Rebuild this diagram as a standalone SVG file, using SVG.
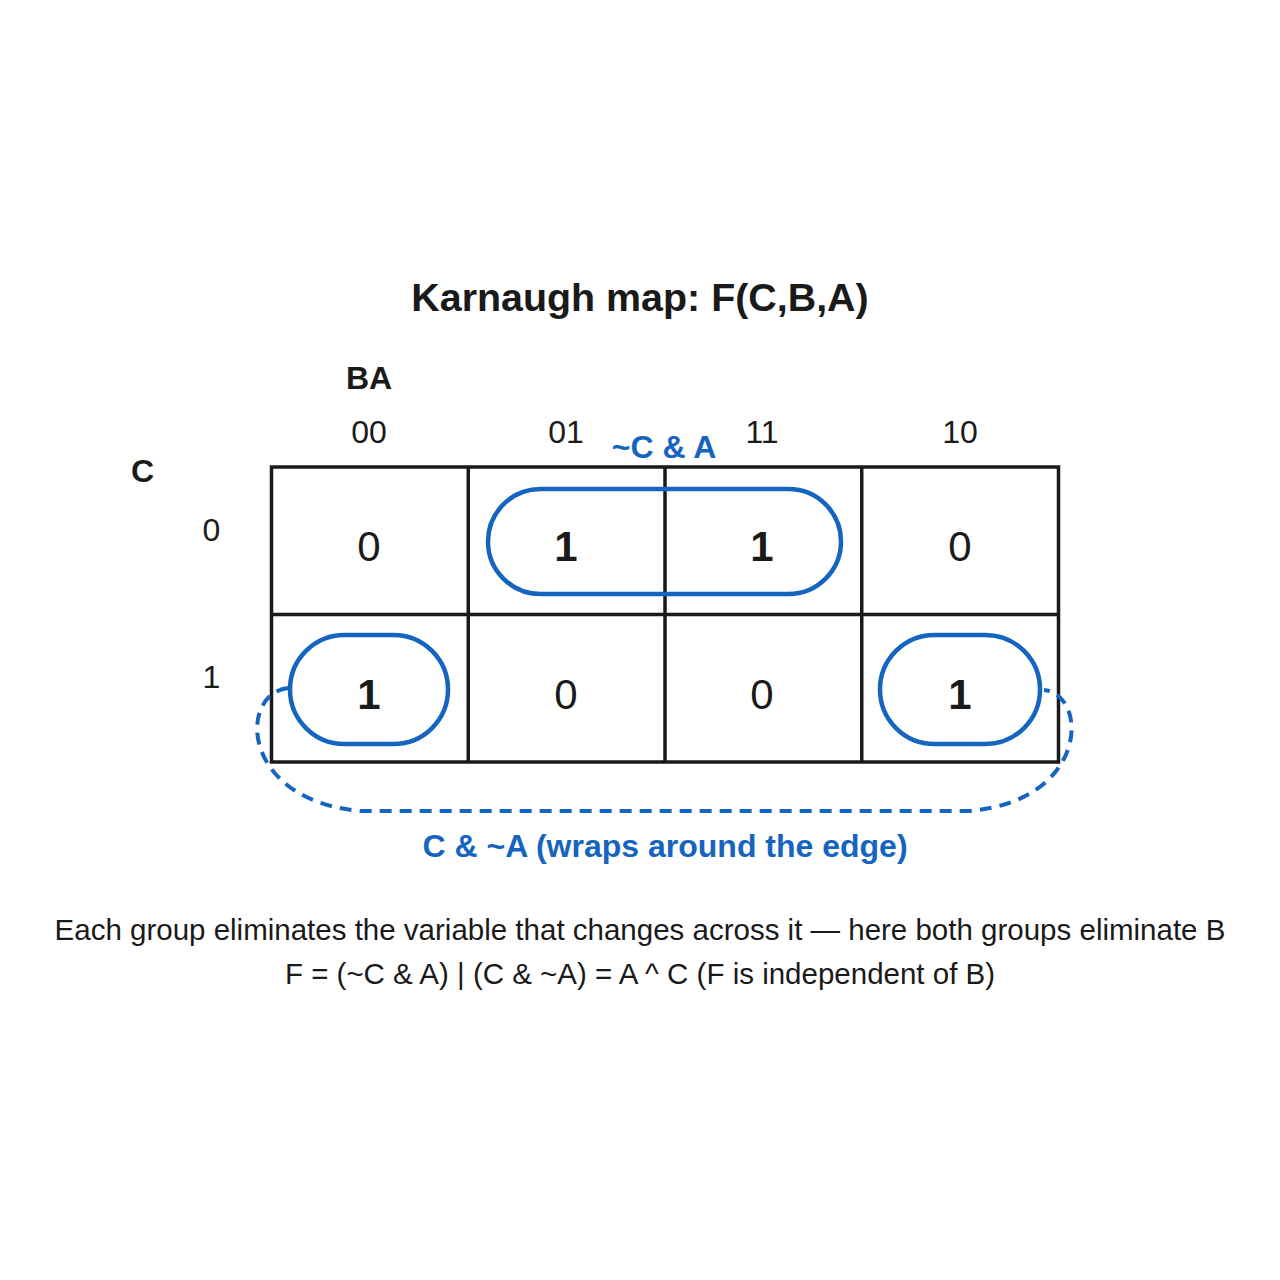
<svg xmlns="http://www.w3.org/2000/svg" width="1280" height="1280" viewBox="0 0 1280 1280">
<style>
  text { font-family: "Liberation Sans", Arial, sans-serif; fill: #1a1a1a; text-anchor: middle; }
  .title { font-size: 39.4px; font-weight: bold; }
  .axis { font-size: 32px; font-weight: bold; }
  .hdr { font-size: 32px; }
  .val0 { font-size: 42px; }
  .val1 { font-size: 42px; font-weight: bold; }
  .glabel { font-size: 32px; font-weight: bold; fill: #1565c0; }
  .foot { font-size: 29.5px; }
  .cell { fill: none; stroke: #1a1a1a; stroke-width: 3.5; }
  .grp { fill: none; stroke: #1565c0; stroke-width: 4.5; }
  .wrap { fill: none; stroke: #1565c0; stroke-width: 4; stroke-dasharray: 12 8; }
</style>
<rect width="1280" height="1280" fill="#ffffff"/>
<text class="title" x="640" y="311">Karnaugh map: F(C,B,A)</text>
<text class="axis" x="369" y="389">BA</text>
<text class="axis" x="142.5" y="482">C</text>
<g id="col-headers">
  <text class="hdr" x="369" y="443">00</text>
  <text class="hdr" x="566" y="443">01</text>
  <text class="hdr" x="762" y="443">11</text>
  <text class="hdr" x="960" y="443">10</text>
</g>
<g id="row-headers">
  <text class="hdr" x="211.5" y="541">0</text>
  <text class="hdr" x="211.5" y="688">1</text>
</g>
<g id="grid">
  <rect class="cell" x="271.5" y="467" width="787" height="295"/>
  <line class="cell" x1="271.5" y1="614.5" x2="1058.5" y2="614.5"/>
  <line class="cell" x1="468.25" y1="467" x2="468.25" y2="762"/>
  <line class="cell" x1="665" y1="467" x2="665" y2="762"/>
  <line class="cell" x1="861.75" y1="467" x2="861.75" y2="762"/>
</g>
<g id="cells">
  <g id="c000"><text class="val0" x="369" y="561">0</text></g>
  <g id="c001"><text class="val1" x="566" y="561">1</text></g>
  <g id="c011"><text class="val1" x="762" y="561">1</text></g>
  <g id="c010"><text class="val0" x="960" y="561">0</text></g>
  <g id="c100"><text class="val1" x="369" y="709">1</text></g>
  <g id="c101"><text class="val0" x="566" y="709">0</text></g>
  <g id="c111"><text class="val0" x="762" y="709">0</text></g>
  <g id="c110"><text class="val1" x="960" y="709">1</text></g>
</g>
<g id="group-notC-A">
  <rect class="grp" x="488" y="489" width="353" height="105" rx="52.5"/>
  <text class="glabel" x="664" y="458">~C &amp; A</text>
</g>
<g id="group-C-notA">
  <rect class="grp" x="290" y="635" width="158" height="109" rx="54.5"/>
  <rect class="grp" x="880" y="635" width="160" height="109" rx="54.5"/>
  <path class="wrap" d="M 288 688 C 238 694, 240 800, 360 811 L 970 811 C 1090 800, 1088 694, 1044 690"/>
  <text class="glabel" x="665" y="857">C &amp; ~A (wraps around the edge)</text>
</g>
<g id="footer">
  <text class="foot" x="640" y="940">Each group eliminates the variable that changes across it — here both groups eliminate B</text>
  <text class="foot" x="640" y="984">F = (~C &amp; A) | (C &amp; ~A) = A ^ C (F is independent of B)</text>
</g>
</svg>
